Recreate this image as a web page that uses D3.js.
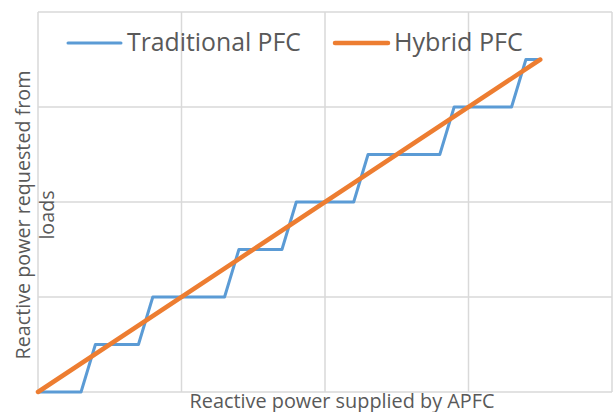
<!DOCTYPE html>
<html>
<head>
<meta charset="utf-8">
<script src="https://cdn.jsdelivr.net/npm/d3@7"></script>
<style>
  body { margin: 0; background: #fff; }
  text { font-family: "Open Sans", Lato, sans-serif; fill: #595959; }
</style>
</head>
<body>
<svg id="chart" width="614" height="412"></svg>
<script>
// Traditional PFC: step response (x, y)
const tradX = [0, 0.3, 0.4, 0.7, 0.8, 1.3, 1.4, 1.7, 1.8, 2.2, 2.3, 2.8, 2.9, 3.3, 3.4, 3.5];
const tradY = [0, 0, 0.5, 0.5, 1, 1, 1.5, 1.5, 2, 2, 2.5, 2.5, 3, 3, 3.5, 3.5];
// Hybrid PFC: straight line
const hybX = [0, 3.5];
const hybY = [0, 3.5];
const xTicks = [0, 1, 2, 3, 4];
const yTicks = [0, 1, 2, 3, 4];
const seriesNames = ['Traditional PFC', 'Hybrid PFC'];

const svg = d3.select('#chart');
const margin = { top: 12, right: 2, bottom: 20, left: 38 };
const width = 614 - margin.left - margin.right;
const height = 412 - margin.top - margin.bottom;

const x = d3.scaleLinear().domain([0, 4]).range([margin.left, margin.left + width]);
const y = d3.scaleLinear().domain([0, 4]).range([margin.top + height, margin.top]);

// shrink/grow a text node until it spans the wanted width
function fitWidth(sel, target) {
  const w = sel.node().getComputedTextLength();
  const fs = parseFloat(sel.attr('font-size'));
  sel.attr('font-size', (fs * target / w).toFixed(2));
}

// gridlines
const grid = svg.append('g').attr('stroke', '#d9d9d9').attr('stroke-width', 1.5);
grid.selectAll('.vx').data(xTicks).enter().append('line')
  .attr('x1', d => x(d)).attr('x2', d => x(d))
  .attr('y1', y(0)).attr('y2', y(4));
grid.selectAll('.hy').data(yTicks).enter().append('line')
  .attr('y1', d => y(d)).attr('y2', d => y(d))
  .attr('x1', x(0)).attr('x2', x(4));

const line = d3.line().x(d => x(d[0])).y(d => y(d[1]));

svg.append('path')
  .datum(tradX.map((v, i) => [v, tradY[i]]))
  .attr('fill', 'none')
  .attr('stroke', '#5B9BD5')
  .attr('stroke-width', 3)
  .attr('stroke-linejoin', 'round')
  .attr('d', line);

svg.append('path')
  .datum(hybX.map((v, i) => [v, hybY[i]]))
  .attr('fill', 'none')
  .attr('stroke', '#ED7D31')
  .attr('stroke-width', 4.5)
  .attr('stroke-linecap', 'round')
  .attr('d', line);

// legend
const legend = [
  { name: seriesNames[0], color: '#5B9BD5', w: 3, x0: 68, tw: 174 },
  { name: seriesNames[1], color: '#ED7D31', w: 4.5, x0: 335, tw: 129 }
];
legend.forEach(l => {
  svg.append('line')
    .attr('x1', l.x0).attr('x2', l.x0 + 53)
    .attr('y1', 43).attr('y2', 43)
    .attr('stroke', l.color).attr('stroke-width', l.w)
    .attr('stroke-linecap', 'round');
  const t = svg.append('text')
    .attr('x', l.x0 + 59).attr('y', 51)
    .attr('font-size', 22)
    .text(l.name);
  fitWidth(t, l.tw);
});

// axis titles
const xt = svg.append('text')
  .attr('x', 342).attr('y', 408)
  .attr('text-anchor', 'middle')
  .attr('font-size', 18)
  .text('Reactive power supplied by APFC');
fitWidth(xt, 305);

const yt = svg.append('text')
  .attr('transform', 'translate(0,215) rotate(-90)')
  .attr('text-anchor', 'middle')
  .attr('font-size', 18);
const yt1 = yt.append('tspan').attr('x', 0).attr('y', 30).text('Reactive power requested from');
yt.append('tspan').attr('x', 0).attr('y', 54).text('loads');
{
  const w = yt1.node().getComputedTextLength();
  yt.attr('font-size', (18 * 289 / w).toFixed(2));
}
</script>
</body>
</html>
